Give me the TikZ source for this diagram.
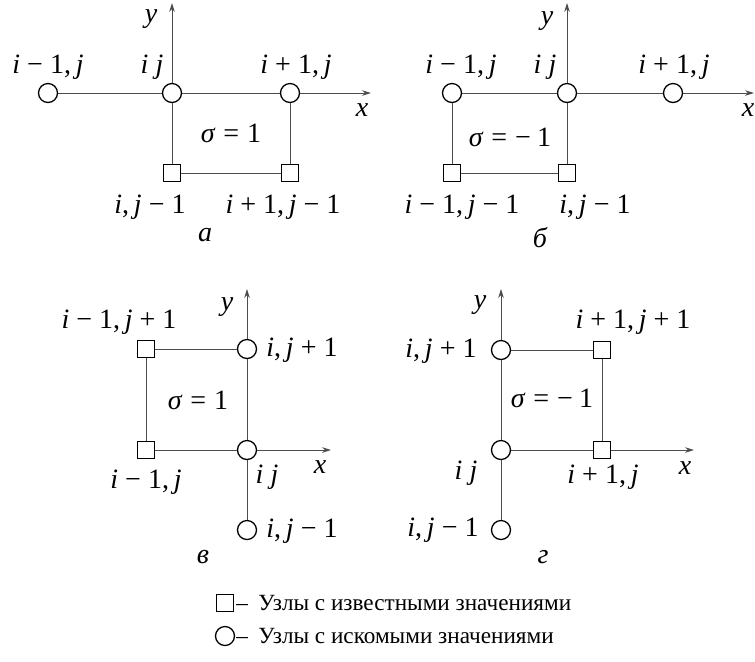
\documentclass[tikz,border=0pt]{standalone}
\usepackage{fontspec}
\IfFontExistsTF{Liberation Serif}{\setmainfont{Liberation Serif}}{\setmainfont{DejaVu Serif}}
\usetikzlibrary{arrows.meta}
\newcommand{\vi}{\textit{i}}
\newcommand{\vj}{\textit{j}}
\newcommand{\bm}{\hspace{0.25em}−\hspace{0.25em}}
\newcommand{\bp}{\hspace{0.25em}+\hspace{0.25em}}
\newcommand{\cm}{,\hspace{0.17em}}
\newcommand{\sig}{\textit{σ}\hspace{0.28em}=\hspace{0.28em}}
\begin{document}
\begin{tikzpicture}[x=0.5pt,y=-0.5pt,
  every node/.style={font=\rmfamily\fontsize{14}{16}\selectfont, inner sep=0pt},
  cnode/.style={circle, draw, line width=0.65pt, minimum size=9.5pt, fill=white},
  snode/.style={rectangle, draw, line width=0.65pt, minimum size=8.5pt, fill=white},
  link/.style={draw=black!70, line width=0.5pt},
  axis/.style={draw=black!70, line width=0.5pt, -{Stealth[length=4.5pt,width=2.8pt]}},
  lbl/.style={anchor=center},
  capt/.style={font=\rmfamily\fontsize{14}{16}\selectfont\itshape},
  legtext/.style={anchor=west, font=\rmfamily\fontsize{11.6}{14}\selectfont}
]
\useasboundingbox (0,0) rectangle (755,661);

% ---------- panel a ----------
\node[cnode] (a1) at (48,93) {};
\node[cnode] (a2) at (172,93) {};
\node[cnode] (a3) at (290,93) {};
\node[snode] (a4) at (172,173) {};
\node[snode] (a5) at (290,173) {};
\coordinate (ay) at (172,3);
\coordinate (ax) at (371,93);
\draw[link] (a1) -- (a2);
\draw[link] (a2) -- (a3);
\draw[link] (a2) -- (a4);
\draw[link] (a3) -- (a5);
\draw[link] (a4) -- (a5);
\draw[axis] (a2) -- (ay);
\draw[axis] (a3) -- (ax);
\node[lbl] (la1) at (48,67) {\vi\bm1\cm\vj};
\node[lbl] (la2) at (152,67) {\vi\hspace{0.25em}\vj};
\node[lbl] (la3) at (296,67) {\vi\bp1\cm\vj};
\node[lbl] (lax) at (362,110) {\textit{x}};
\node[lbl] (lay) at (151,19) {\textit{y}};
\node[lbl] (las) at (231,133) {\sig1};
\node[lbl] (la4) at (150,207) {\vi\cm\vj\bm1};
\node[lbl] (la5) at (283,207) {\vi\bp1\cm\vj\bm1};
\node[capt] (capa) at (205,235) {а};

% ---------- panel b ----------
\node[cnode] (b1) at (452,93) {};
\node[cnode] (b2) at (567,93) {};
\node[cnode] (b3) at (673,93) {};
\node[snode] (b4) at (452,173) {};
\node[snode] (b5) at (567,173) {};
\coordinate (by) at (567,3);
\coordinate (bx) at (754,93);
\draw[link] (b1) -- (b2);
\draw[link] (b2) -- (b3);
\draw[link] (b1) -- (b4);
\draw[link] (b2) -- (b5);
\draw[link] (b4) -- (b5);
\draw[axis] (b2) -- (by);
\draw[axis] (b3) -- (bx);
\node[lbl] (lb1) at (461,67) {\vi\bm1\cm\vj};
\node[lbl] (lb2) at (545,67) {\vi\hspace{0.25em}\vj};
\node[lbl] (lb3) at (674,67) {\vi\bp1\cm\vj};
\node[lbl] (lbx) at (748,110) {\textit{x}};
\node[lbl] (lby) at (547,21) {\textit{y}};
\node[lbl] (lbs) at (510,137) {\sig−\hspace{0.22em}1};
\node[lbl] (lb4) at (462,207) {\vi\bm1\cm\vj\bm1};
\node[lbl] (lb5) at (595,207) {\vi\cm\vj\bm1};
\node[capt] (capb) at (540,238) {б};

% ---------- panel v ----------
\node[cnode] (v1) at (247,349) {};
\node[cnode] (v2) at (247,450) {};
\node[cnode] (v3) at (247,530) {};
\node[snode] (v4) at (146,349) {};
\node[snode] (v5) at (146,450) {};
\coordinate (vy) at (247,289);
\coordinate (vx) at (331,450);
\draw[link] (v4) -- (v1);
\draw[link] (v4) -- (v5);
\draw[link] (v5) -- (v2);
\draw[link] (v1) -- (v2);
\draw[link] (v2) -- (v3);
\draw[axis] (v1) -- (vy);
\draw[axis] (v2) -- (vx);
\node[lbl] (lv4) at (119,322) {\vi\bm1\cm\vj\bp1};
\node[lbl] (lv1) at (302,350) {\vi\cm\vj\bp1};
\node[lbl] (lvs) at (198,400) {\sig1};
\node[lbl] (lv5) at (146,482) {\vi\bm1\cm\vj};
\node[lbl] (lv2) at (267,477) {\vi\hspace{0.25em}\vj};
\node[lbl] (lvx) at (320,467) {\textit{x}};
\node[lbl] (lvy) at (227,307) {\textit{y}};
\node[lbl] (lv3) at (302,531) {\vi\cm\vj\bm1};
\node[capt] (capv) at (203,557) {в};

% ---------- panel g ----------
\node[cnode] (g1) at (501,350) {};
\node[cnode] (g2) at (501,450) {};
\node[cnode] (g3) at (501,530) {};
\node[snode] (g4) at (602,350) {};
\node[snode] (g5) at (602,450) {};
\coordinate (gy) at (501,289);
\coordinate (gx) at (694,450);
\draw[link] (g1) -- (g4);
\draw[link] (g4) -- (g5);
\draw[link] (g2) -- (g5);
\draw[link] (g1) -- (g2);
\draw[link] (g2) -- (g3);
\draw[axis] (g1) -- (gy);
\draw[axis] (g5) -- (gx);
\node[lbl] (lg4) at (633,322) {\vi\bp1\cm\vj\bp1};
\node[lbl] (lg1) at (441,351) {\vi\cm\vj\bp1};
\node[lbl] (lgs) at (552,398) {\sig−\hspace{0.22em}1};
\node[lbl] (lg2) at (466,473) {\vi\hspace{0.25em}\vj};
\node[lbl] (lg5) at (603,477) {\vi\bp1\cm\vj};
\node[lbl] (lgx) at (685,468) {\textit{x}};
\node[lbl] (lgy) at (480,305) {\textit{y}};
\node[lbl] (lg3) at (443,530) {\vi\cm\vj\bm1};
\node[capt] (capg) at (543,557) {г};

% ---------- legend ----------
\node[snode] (ks) at (225,603) {};
\node[cnode] (kc) at (225,636) {};
\node[legtext] (kst) at (236,603) {–\hspace{0.45em}Узлы с известными значениями};
\node[legtext] (kct) at (236,636) {–\hspace{0.45em}Узлы с искомыми значениями};
\end{tikzpicture}
\end{document}
